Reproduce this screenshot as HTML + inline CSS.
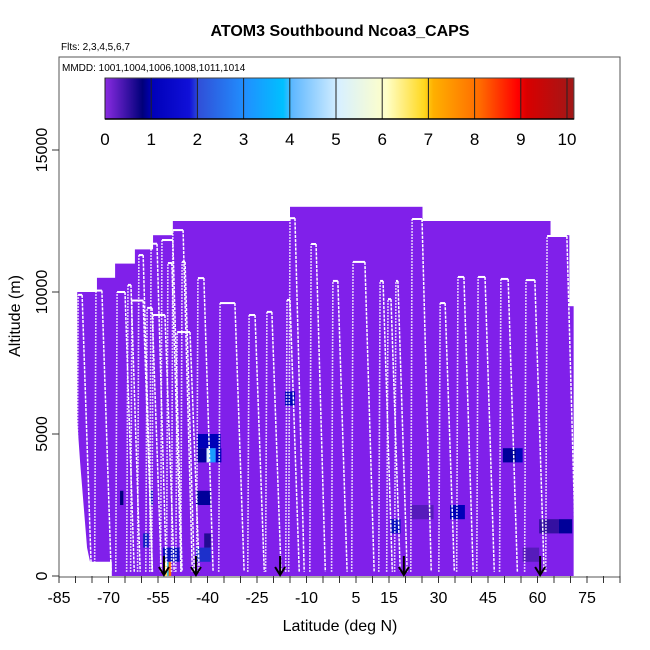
<!DOCTYPE html>
<html><head><meta charset="utf-8">
<style>
html,body{margin:0;padding:0;background:#fff;}
svg{display:block;font-family:"Liberation Sans",Arial,sans-serif;}
</style></head>
<body>
<svg id="chart" width="650" height="650" viewBox="0 0 650 650" xmlns="http://www.w3.org/2000/svg">
  <defs>
    <linearGradient id="cbgrad" x1="0" x2="1" y1="0" y2="0">
      <stop offset="0" stop-color="#8a2be2"/>
      <stop offset="0.08" stop-color="#00007a"/>
      <stop offset="0.1" stop-color="#0000b8"/>
      <stop offset="0.18" stop-color="#1010d8"/>
      <stop offset="0.2" stop-color="#3050d8"/>
      <stop offset="0.3" stop-color="#2090ff"/>
      <stop offset="0.38" stop-color="#00c0ff"/>
      <stop offset="0.4" stop-color="#60b8ff"/>
      <stop offset="0.5" stop-color="#d8f0ff"/>
      <stop offset="0.6" stop-color="#ffffc8"/>
      <stop offset="0.68" stop-color="#ffd820"/>
      <stop offset="0.7" stop-color="#ffb000"/>
      <stop offset="0.8" stop-color="#ff6a00"/>
      <stop offset="0.88" stop-color="#ff0000"/>
      <stop offset="0.9" stop-color="#d80000"/>
      <stop offset="1" stop-color="#a01818"/>
    </linearGradient>
  </defs>
  <text x="340" y="36" text-anchor="middle" font-size="16" font-weight="bold">ATOM3 Southbound Ncoa3_CAPS</text>
  <text x="61" y="50" font-size="10">Flts: 2,3,4,5,6,7</text>
  <g id="plot"></g>
  <rect x="59" y="57" width="561" height="520" fill="none" stroke="#555" stroke-width="1"/>
  <text x="62" y="71" font-size="10">MMDD: 1001,1004,1006,1008,1011,1014</text>
  <g id="colorbar"></g>
  <g id="axes"></g>
  <text x="340" y="631" text-anchor="middle" font-size="16">Latitude (deg N)</text>
  <text transform="translate(20,316) rotate(-90)" text-anchor="middle" font-size="16">Altitude (m)</text>
</svg>
<script>
// ---- data ----
const blockEdges = [-79.5,-73.5,-68,-62,-56.5,-50.5,-15,25,63.8,69.5,70.8];
const blockTops = [10000,10500,11000,11500,12000,12500,13000,12500,12000,9500];
// profiles: top-leg start lat, end lat, top altitude
const profStart = [-79.2,-73.8,-67.4,-64.1,-62.9,-60.8,-58.3,-57.1,-56.5,-53.8,-50.5,-52.0,-47.7,-49.2,-42.9,-36.2,-27.4,-22.0,-15.9,-15.0,-8.6,-2.0,4.1,12.3,14.7,17.1,22.0,30.5,35.9,42.0,48.9,56.5,62.9];
const profEnd   = [-78.0,-72.0,-65.0,-63.2,-59.5,-59.5,-56.8,-55.3,-52.9,-50.5,-47.4,-50.8,-46.8,-45.3,-41.1,-31.7,-25.6,-20.5,-15.0,-13.5,-7.1,-0.5,7.7,13.2,15.6,17.7,25.0,32.0,37.7,44.1,51.1,59.2,68.9];
const profTop   = [9900,10050,10000,10250,9700,11300,9440,11700,9190,11830,12180,11020,11060,8590,10490,9610,9190,9300,9720,12600,11690,10390,11060,10390,9750,10390,12570,9610,10530,10530,10460,10420,11970];
// colored cells: lat start, lat end, alt bottom, value (500 m tall)
const cellLat0 = [-43.0,-40.3,-43.0,-39.5,-37.5,-43.5,-53.5,-43.5,-52.5,-16.5,49.5,53.5,55.5,60.5,66.5,15.5,33.5,21.5,-59.5,-57.5,-53.0,-51.8,-66.5,-41.0];
const cellLat1 = [-36.0,-39.5,-40.3,-37.5,-35.8,-39.0,-48.5,-39.0,-51.8,-13.5,53.5,55.5,60.5,66.5,70.5,18.5,38.0,28.5,-57.8,-56.5,-52.2,-51.0,-65.5,-39.0];
const cellAlt   = [4500,4000,4000,4000,4000,2500,500,500,0,6000,4000,4000,500,1500,1500,1500,2000,2000,1000,2500,0,0,2500,1000];
const cellVal   = [1.0,5.0,0.9,3.2,1.0,0.9,1.2,1.6,3.8,1.0,0.9,1.1,0.3,0.5,0.9,1.2,1.0,0.3,1.4,1.2,6.5,8.0,0.8,0.6];
const arrowLats = [-53.2,-43.5,-18.0,19.5,60.8];
const xTickLabels = [-85,-70,-55,-40,-25,-10,5,15,30,45,60,75];
const yTicks = [0,5000,10000,15000];
const cbTicks = [0,1,2,3,4,5,6,7,8,9,10];

// ---- scales ----
const NS='http://www.w3.org/2000/svg';
function X(lat){return 59+(lat+85)*3.3;}
function Y(alt){return 576-alt*142/5000;}
function CBX(v){return 105+v*46.2;}
function mk(tag,attrs,parent){const e=document.createElementNS(NS,tag);for(const k in attrs)e.setAttribute(k,attrs[k]);parent.appendChild(e);return e;}
const stops=[[0,[138,43,226]],[0.8,[0,0,122]],[1,[0,0,184]],[2,[48,80,216]],[3,[32,144,255]],[3.8,[0,192,255]],[4,[96,184,255]],[5,[216,240,255]],[6,[255,255,200]],[7,[255,176,0]],[8,[255,106,0]],[9,[216,0,0]],[10,[160,24,24]]];
function col(v){for(let i=0;i<stops.length-1;i++){const a=stops[i],b=stops[i+1];if(v<=b[0]){const t=(v-a[0])/(b[0]-a[0]);const c=a[1].map((x,j)=>Math.round(x+(b[1][j]-x)*t));return 'rgb('+c.join(',')+')';}}return 'rgb(160,24,24)';}

const plot=document.getElementById('plot');
// purple curtain blocks
for(let i=0;i<blockTops.length;i++){
  const r=mk('rect',{x:X(blockEdges[i]),y:Y(blockTops[i]),width:X(blockEdges[i+1])-X(blockEdges[i])+0.5,height:Y(0)-Y(blockTops[i]),fill:'#8020ea'},plot);
  
  
}
// white lower-left gap
const gap=mk('polygon',{points:[[X(-85),Y(10000)],[X(-79.5),Y(10000)],[X(-79.5),Y(5500)],[X(-78.6),Y(4000)],[X(-76.5),Y(1000)],[X(-75.6),Y(500)],[X(-69),Y(500)],[X(-69),Y(0)],[X(-85),Y(0)]].map(p=>p.join(',')).join(' '),fill:'#fff'},plot);


// cells
for(let i=0;i<cellVal.length;i++){
  const r=mk('rect',{x:X(cellLat0[i]),y:Y(cellAlt[i]+500),width:X(cellLat1[i])-X(cellLat0[i]),height:Y(cellAlt[i])-Y(cellAlt[i]+500),fill:col(cellVal[i])},plot);
  
  
}
// profiles
for(let i=0;i<profTop.length;i++){
  const s=profStart[i],e=profEnd[i],t=profTop[i];
  const a=mk('line',{x1:X(s-0.4),y1:Y(150),x2:X(s),y2:Y(t),stroke:'#fff','stroke-width':1.6,'stroke-dasharray':'1.5,1.5'},plot);
  
  
  const l=mk('line',{x1:X(s),y1:Y(t),x2:X(e),y2:Y(t),stroke:'#fff','stroke-width':2},plot);
  
  
  const d=mk('line',{x1:X(e),y1:Y(t),x2:X(e+2.8),y2:Y(150),stroke:'#fff','stroke-width':1.5,'stroke-dasharray':'3,1.2'},plot);
  
  
}
// arrows
for(const lat of arrowLats){
  const g=mk('g',{},plot);
  
  
  mk('line',{x1:X(lat),y1:556,x2:X(lat),y2:574,stroke:'#000','stroke-width':2},g);
  mk('polyline',{points:`${X(lat)-5},${567} ${X(lat)},${575} ${X(lat)+5},${567}`,fill:'none',stroke:'#000','stroke-width':2},g);
}
// axes
const axes=document.getElementById('axes');
for(let lat=-85;lat<=85;lat+=5){
  const t=mk('line',{x1:X(lat),y1:576,x2:X(lat),y2:583,stroke:'#333'},axes);
  
  
}
for(const v of xTickLabels){
  const t=mk('text',{x:X(v),y:603,'text-anchor':'middle','font-size':16},axes);
  t.textContent=v;
  
  
}
for(const v of yTicks){
  const t=mk('line',{x1:52,y1:Y(v),x2:59,y2:Y(v),stroke:'#333'},axes);
  
  
  const lb=mk('text',{transform:`translate(47,${Y(v)}) rotate(-90)`,'text-anchor':'middle','font-size':16},axes);
  lb.textContent=v;
  
  
}
// colorbar
const cb=document.getElementById('colorbar');
const bar=mk('rect',{x:CBX(0),y:78,width:CBX(10.15)-CBX(0),height:41,fill:'url(#cbgrad)',stroke:'#444','stroke-width':1},cb);


for(const v of cbTicks){
  const l=mk('line',{x1:CBX(v),y1:78,x2:CBX(v),y2:119,stroke:'#222','stroke-width':1},cb);
  
  
  const t=mk('text',{x:CBX(v),y:145,'text-anchor':'middle','font-size':17},cb);
  t.textContent=v;
  
  
}
mk('line',{x1:CBX(0),y1:119,x2:CBX(10.15),y2:119,stroke:'#000','stroke-width':1.5},cb);
</script>
</body></html>
